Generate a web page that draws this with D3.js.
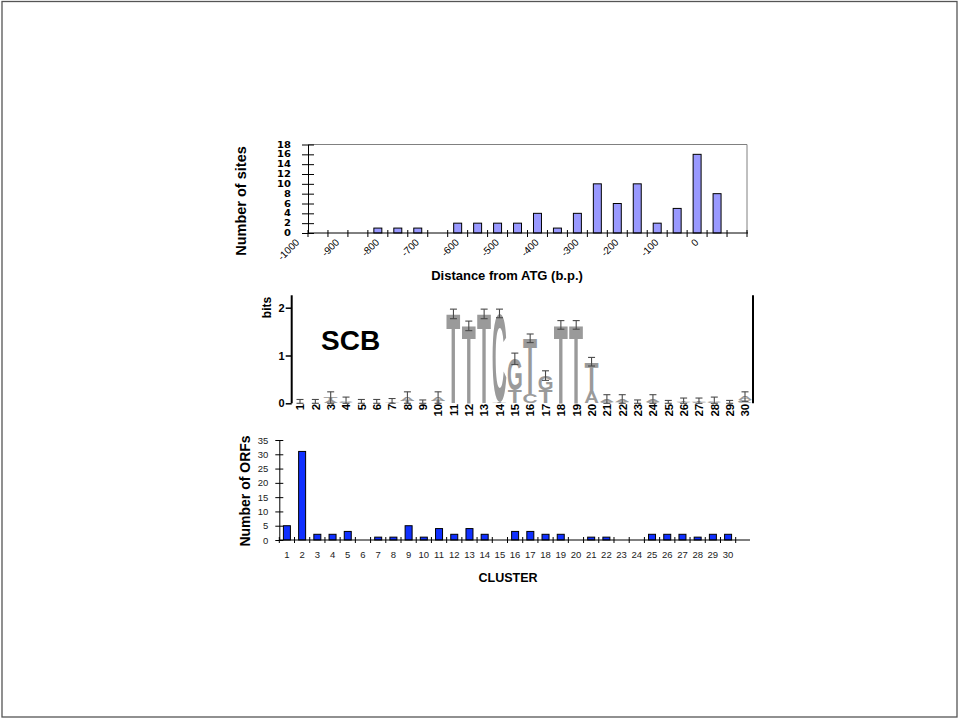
<!DOCTYPE html>
<html>
<head>
<meta charset="utf-8">
<script src="https://cdn.jsdelivr.net/npm/d3@7"></script>
<style>
    body { margin: 0; background: #fff; }
    svg { display: block; font-family: "Liberation Sans", Arial, sans-serif; }
</style>
</head>
<body>
<svg id="fig" width="959" height="719"></svg>
<script>
/*-------------------------------------------------------*/
/*------------------------ Data -------------------------*/
/*-------------------------------------------------------*/
// top panel: number of sites per 50 bp bin upstream of ATG
const siteBins = [-950, -900, -850, -800, -750, -700, -650, -600, -550, -500, -450,
    -400, -350, -300, -250, -200, -150, -100, -50, 0, 50, 100];
const siteCounts = [0, 0, 0, 1, 1, 1, 0, 2, 2, 2, 2, 4, 1, 4, 10, 6, 10, 2, 5, 16, 8, 0];
const siteTickLabels = [-1000, -900, -800, -700, -600, -500, -400, -300, -200, -100, 0];
const siteYTicks = [0, 2, 4, 6, 8, 10, 12, 14, 16, 18];

// middle panel: SCB sequence logo (letters bottom -> top, height in bits)
const logoPositions = [1, 2, 3, 4, 5, 6, 7, 8, 9, 10, 11, 12, 13, 14, 15,
    16, 17, 18, 19, 20, 21, 22, 23, 24, 25, 26, 27, 28, 29, 30];
const logoLetters = [
    [["C", 0.01], ["A", 0.01]],
    [["G", 0.01], ["T", 0.01]],
    [["A", 0.05], ["T", 0.07]],
    [["C", 0.02], ["A", 0.03]],
    [["T", 0.01], ["A", 0.01]],
    [["G", 0.01], ["A", 0.01]],
    [["C", 0.01], ["T", 0.02]],
    [["T", 0.05], ["A", 0.07]],
    [["C", 0.01]],
    [["T", 0.05], ["A", 0.07]],
    [["T", 1.87]],
    [["T", 1.62]],
    [["T", 1.87]],
    [["T", 0.02], ["C", 1.86]],
    [["T", 0.27], ["G", 0.66]],
    [["C", 0.2], ["T", 1.16]],
    [["T", 0.27], ["G", 0.31]],
    [["T", 1.64]],
    [["T", 1.64]],
    [["A", 0.24], ["T", 0.63]],
    [["C", 0.03], ["A", 0.06]],
    [["T", 0.03], ["A", 0.06]],
    [["G", 0.01]],
    [["C", 0.03], ["A", 0.05]],
    [["T", 0.01]],
    [["A", 0.02], ["T", 0.02]],
    [["G", 0.02], ["T", 0.02]],
    [["C", 0.03], ["A", 0.03]],
    [["T", 0.01]],
    [["C", 0.06], ["A", 0.08]]
];
const logoErrors = [0.06, 0.06, 0.12, 0.08, 0.06, 0.06, 0.07, 0.12, 0.06, 0.12,
    0.1, 0.1, 0.1, 0.09, 0.12, 0.09, 0.1, 0.09, 0.09, 0.09,
    0.09, 0.09, 0.06, 0.1, 0.05, 0.07, 0.07, 0.07, 0.05, 0.1];
const logoYTicks = [0, 1, 2];

// bottom panel: number of ORFs per cluster
const clusters = [1, 2, 3, 4, 5, 6, 7, 8, 9, 10, 11, 12, 13, 14, 15,
    16, 17, 18, 19, 20, 21, 22, 23, 24, 25, 26, 27, 28, 29, 30];
const orfCounts = [5, 31, 2, 2, 3, 0, 1, 1, 5, 1, 4, 2, 4, 2, 0,
    3, 3, 2, 2, 0, 1, 1, 0, 0, 2, 2, 2, 1, 2, 2];
const orfYTicks = [0, 5, 10, 15, 20, 25, 30, 35];

const svg = d3.select("#fig");

// slide frame
svg.append("rect")
    .attr("x", 2).attr("y", 1.5)
    .attr("width", 955).attr("height", 715.5)
    .attr("fill", "none")
    .attr("stroke", "#555")
    .attr("stroke-width", 1.3);

/*-------------------------------------------------------*/
/*--------------- Top panel: sites histogram ------------*/
/*-------------------------------------------------------*/
const siteBox = { x0: 308, x1: 747, y0: 144.5, y1: 233 };

const xSite = d3.scaleBand().domain(siteBins).range([siteBox.x0, siteBox.x1]).padding(0);
const bpScale = d3.scaleLinear().domain([-975, 125]).range([siteBox.x0, siteBox.x1]);
const ySite = d3.scaleLinear().domain([0, 18]).range([siteBox.y1, siteBox.y0]);

const gTop = svg.append("g");

// plot area border (top + right, grey)
gTop.append("path")
    .attr("d", `M${siteBox.x0},${siteBox.y0}H${siteBox.x1}V${siteBox.y1}`)
    .attr("fill", "none")
    .attr("stroke", "#808080");

const siteBarW = xSite.step() * 0.4;
gTop.selectAll("rect.site")
    .data(siteCounts)
    .enter()
    .append("rect")
    .attr("class", "site")
    .attr("x", (d, i) => xSite(siteBins[i]) + (xSite.step() - siteBarW) / 2)
    .attr("y", d => ySite(d))
    .attr("width", siteBarW)
    .attr("height", d => ySite(0) - ySite(d))
    .attr("fill", "#9999ff")
    .attr("stroke", "#000")
    .attr("stroke-width", 1)
    .style("display", d => d > 0 ? null : "none");

// y axis with crossing ticks
const yAxisTop = gTop.append("g")
    .attr("transform", `translate(${siteBox.x0},0)`)
    .call(d3.axisLeft(ySite).tickValues(siteYTicks).tickSizeInner(6).tickSizeOuter(0).tickPadding(11));
yAxisTop.selectAll(".tick line").attr("x1", 6);
yAxisTop.selectAll(".tick text")
    .attr("font-family", "'DejaVu Sans', sans-serif")
    .attr("font-weight", "bold")
    .attr("font-size", 10)
    .attr("transform", "scale(1,0.8)");

// x axis line and ticks at bin edges
gTop.append("line")
    .attr("x1", siteBox.x0).attr("x2", siteBox.x1 + 1)
    .attr("y1", siteBox.y1).attr("y2", siteBox.y1)
    .attr("stroke", "#000");
const siteEdges = siteBins.map(d => xSite(d)).concat([xSite.range()[1]]);
gTop.selectAll("line.edge")
    .data(siteEdges)
    .enter()
    .append("line")
    .attr("class", "edge")
    .attr("x1", d => d).attr("x2", d => d)
    .attr("y1", siteBox.y1 - 3).attr("y2", siteBox.y1 + 4)
    .attr("stroke", "#000");

gTop.selectAll("text.xlab")
    .data(siteTickLabels)
    .enter()
    .append("text")
    .attr("class", "xlab")
    .attr("transform", d => `translate(${bpScale(d) + 2},${siteBox.y1 + 10}) rotate(-45)`)
    .attr("text-anchor", "end")
    .attr("font-size", 10)
    .text(d => d);

gTop.append("text")
    .attr("transform", `translate(246,201) rotate(-90)`)
    .attr("text-anchor", "middle")
    .attr("font-weight", "bold")
    .attr("font-size", 14.5)
    .text("Number of sites");

gTop.append("text")
    .attr("x", 507).attr("y", 280)
    .attr("text-anchor", "middle")
    .attr("font-weight", "bold")
    .attr("font-size", 13)
    .text("Distance from ATG (b.p.)");

/*-------------------------------------------------------*/
/*----------------- Middle panel: logo ------------------*/
/*-------------------------------------------------------*/
const xLogo = d3.scalePoint().domain(logoPositions).range([300, 745]);
const yLogo = d3.scaleLinear().domain([0, 2]).range([403.3, 307.7]);
const colW = xLogo.step() * 0.9;

const gLogo = svg.append("g");

// ink metrics of the letters, to stretch each glyph into its box
const ctx = document.createElement("canvas").getContext("2d");
ctx.font = "bold 100px 'Liberation Sans'";
const inkCache = {};
function ink(ch) {
    if (!inkCache[ch]) {
        const m = ctx.measureText(ch);
        inkCache[ch] = {
            left: -m.actualBoundingBoxLeft,
            w: m.actualBoundingBoxRight + m.actualBoundingBoxLeft,
            h: m.actualBoundingBoxAscent + m.actualBoundingBoxDescent,
            desc: m.actualBoundingBoxDescent
        };
    }
    return inkCache[ch];
}

const glyphs = [];
logoLetters.forEach((stack, i) => {
    let base = 0;
    stack.forEach(([ch, h]) => {
        glyphs.push({ pos: logoPositions[i], ch: ch, lo: base, hi: base + h });
        base += h;
    });
});

gLogo.selectAll("text.glyph")
    .data(glyphs)
    .enter()
    .append("text")
    .attr("class", "glyph")
    .attr("font-family", "'Liberation Sans'")
    .attr("font-weight", "bold")
    .attr("font-size", 100)
    .attr("fill", "#9a9a9a")
    .attr("transform", d => {
        const m = ink(d.ch);
        const sx = colW / m.w;
        const sy = (yLogo(d.lo) - yLogo(d.hi)) / m.h;
        return `translate(${xLogo(d.pos) - colW / 2},${yLogo(d.lo)}) scale(${sx},${sy}) translate(${-m.left},${-m.desc})`;
    })
    .text(d => d.ch);

// error bars
const logoTops = logoLetters.map(s => d3.sum(s, l => l[1]));
const errG = gLogo.selectAll("g.err")
    .data(logoPositions)
    .enter()
    .append("g")
    .attr("class", "err")
    .attr("stroke", "#4a4a4a")
    .attr("stroke-width", 1.1);
errG.append("line")
    .attr("x1", d => xLogo(d)).attr("x2", d => xLogo(d))
    .attr("y1", (d, i) => yLogo(logoTops[i] + logoErrors[i]))
    .attr("y2", (d, i) => yLogo(Math.max(0, logoTops[i] - logoErrors[i])));
errG.append("line")
    .attr("x1", d => xLogo(d) - 3.5).attr("x2", d => xLogo(d) + 3.5)
    .attr("y1", (d, i) => yLogo(logoTops[i] + logoErrors[i]))
    .attr("y2", (d, i) => yLogo(logoTops[i] + logoErrors[i]));
errG.append("line")
    .attr("x1", d => xLogo(d) - 3.5).attr("x2", d => xLogo(d) + 3.5)
    .attr("y1", (d, i) => yLogo(Math.max(0, logoTops[i] - logoErrors[i])))
    .attr("y2", (d, i) => yLogo(Math.max(0, logoTops[i] - logoErrors[i])));

// position numbers
gLogo.selectAll("text.pos")
    .data(logoPositions)
    .enter()
    .append("text")
    .attr("class", "pos")
    .attr("transform", d => `translate(${xLogo(d) + 4.3},${yLogo(0) + 0.5}) rotate(-90)`)
    .attr("text-anchor", "end")
    .attr("font-weight", "bold")
    .attr("font-size", 11.5)
    .text(d => d);

// y axis (bits)
const yAxisLogo = gLogo.append("g")
    .attr("transform", "translate(291.7,0)")
    .call(d3.axisLeft(yLogo).tickValues(logoYTicks).tickFormat(d3.format("d"))
        .tickSizeInner(6).tickSizeOuter(0).tickPadding(1));
yAxisLogo.select(".domain")
    .attr("d", `M0,${yLogo(0)}V${yLogo(2.26)}`)
    .attr("stroke-width", 2);
yAxisLogo.selectAll(".tick line").attr("stroke-width", 1.5);
yAxisLogo.selectAll(".tick text")
    .attr("font-weight", "bold")
    .attr("font-size", 11);

gLogo.append("text")
    .attr("transform", "translate(271,307.5) rotate(-90)")
    .attr("text-anchor", "middle")
    .attr("font-weight", "bold")
    .attr("font-size", 12)
    .text("bits");

gLogo.append("line")
    .attr("x1", 753).attr("x2", 753)
    .attr("y1", yLogo(2.26)).attr("y2", yLogo(0))
    .attr("stroke", "#000")
    .attr("stroke-width", 2);

gLogo.append("text")
    .attr("x", 321).attr("y", 350)
    .attr("font-weight", "bold")
    .attr("font-size", 28)
    .text("SCB");

/*-------------------------------------------------------*/
/*---------------- Bottom panel: ORFs -------------------*/
/*-------------------------------------------------------*/
const orfBox = { x0: 279.3, x1: 735.7, xEnd: 750, y0: 440, y1: 540 };

const xOrf = d3.scaleBand().domain(clusters).range([orfBox.x0, orfBox.x1]).padding(0);
const yOrf = d3.scaleLinear().domain([0, 35]).range([orfBox.y1, orfBox.y0]);

const gBot = svg.append("g");

const orfBarW = xOrf.step() * 0.46;
gBot.selectAll("rect.orf")
    .data(orfCounts)
    .enter()
    .append("rect")
    .attr("class", "orf")
    .attr("x", (d, i) => xOrf(clusters[i]) + (xOrf.step() - orfBarW) / 2)
    .attr("y", d => yOrf(d))
    .attr("width", orfBarW)
    .attr("height", d => yOrf(0) - yOrf(d))
    .attr("fill", "#1030ff")
    .attr("stroke", "#000")
    .attr("stroke-width", 1)
    .style("display", d => d > 0 ? null : "none");

const yAxisBot = gBot.append("g")
    .attr("transform", `translate(${orfBox.x0},0)`)
    .call(d3.axisLeft(yOrf).tickValues(orfYTicks).tickSizeInner(4).tickSizeOuter(0).tickPadding(7));
yAxisBot.selectAll(".tick line").attr("x1", 4);
yAxisBot.selectAll(".tick text")
    .attr("font-size", 9.5)
    .attr("fill", "#222");

gBot.append("line")
    .attr("x1", orfBox.x0).attr("x2", orfBox.xEnd)
    .attr("y1", orfBox.y1).attr("y2", orfBox.y1)
    .attr("stroke", "#000");
const orfEdges = clusters.map(d => xOrf(d)).concat([xOrf.range()[1]]);
gBot.selectAll("line.edge")
    .data(orfEdges)
    .enter()
    .append("line")
    .attr("class", "edge")
    .attr("x1", d => d).attr("x2", d => d)
    .attr("y1", orfBox.y1 - 3).attr("y2", orfBox.y1 + 3)
    .attr("stroke", "#000");

gBot.selectAll("text.xlab")
    .data(clusters)
    .enter()
    .append("text")
    .attr("class", "xlab")
    .attr("x", d => xOrf(d) + xOrf.bandwidth() / 2)
    .attr("y", 558)
    .attr("text-anchor", "middle")
    .attr("font-size", 9.5)
    .attr("fill", "#222")
    .text(d => d);

gBot.append("text")
    .attr("transform", "translate(250,491) rotate(-90)")
    .attr("text-anchor", "middle")
    .attr("font-weight", "bold")
    .attr("font-size", 14)
    .text("Number of ORFs");

gBot.append("text")
    .attr("x", 508).attr("y", 582)
    .attr("text-anchor", "middle")
    .attr("font-weight", "bold")
    .attr("font-size", 12.5)
    .text("CLUSTER");
</script>
</body>
</html>
